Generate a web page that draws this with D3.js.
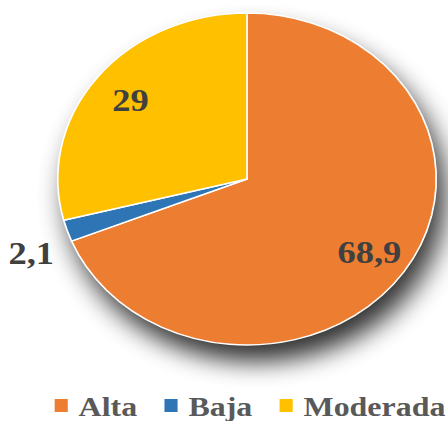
<!DOCTYPE html>
<html>
<head>
<meta charset="utf-8">
<script src="https://cdn.jsdelivr.net/npm/d3@7"></script>
<style>
  body { margin: 0; background: #fff; }
  svg { display: block; }
</style>
</head>
<body>
<svg id="chart" width="448" height="421"></svg>
<script>
// data
const categories = ["Alta", "Baja", "Moderada"];
const values = [68.9, 2.1, 29];
const valueLabels = ["68,9", "2,1", "29"];
const colors = ["#ED7D31", "#2E75B6", "#FFC000"];

const svg = d3.select("#chart");

// the original picture is stretched horizontally
const sx = 1.14;
const radius = 166;
const cx = 247 / sx, cy = 179;

const defs = svg.append("defs");
const shadow = defs.append("filter")
    .attr("id", "shadow")
    .attr("x", "-30%").attr("y", "-30%")
    .attr("width", "160%").attr("height", "160%");
shadow.append("feGaussianBlur").attr("stdDeviation", 12);

const g = svg.append("g").attr("transform", `scale(${sx},1)`);

const pie = d3.pie().sort(null).value(d => d);
const arcs = pie(values);
const arc = d3.arc().innerRadius(0).outerRadius(radius);
const labelArc = d3.arc().innerRadius(radius * 0.78).outerRadius(radius * 0.78);
const outerLabelArc = d3.arc().innerRadius(radius * 1.2).outerRadius(radius * 1.2);

const plot = g.append("g").attr("transform", `translate(${cx},${cy})`);

// shadow under the pie
plot.append("circle")
    .attr("cx", 8).attr("cy", 17)
    .attr("r", radius)
    .attr("fill", "#000")
    .attr("opacity", 0.8)
    .attr("filter", "url(#shadow)");

plot.selectAll("path.slice")
    .data(arcs)
    .enter().append("path")
    .attr("class", "slice")
    .attr("d", arc)
    .attr("fill", (d, i) => colors[i])
    .attr("stroke", "#fff")
    .attr("stroke-width", 1.5)
    .attr("stroke-linejoin", "round");

// data labels
plot.selectAll("text.value")
    .data(arcs)
    .enter().append("text")
    .attr("class", "value")
    .attr("transform", d => {
        const p = (d.endAngle - d.startAngle) < 0.3 ? outerLabelArc.centroid(d) : labelArc.centroid(d);
        return `translate(${p[0]},${p[1]})`;
    })
    .attr("text-anchor", "middle")
    .attr("dy", d => (d.endAngle - d.startAngle) < 0.3 ? "0.7em" : "0.35em")
    .attr("font-family", "'Liberation Serif', 'Times New Roman', serif")
    .attr("font-weight", "bold")
    .attr("font-size", 32)
    .attr("fill", "#404040")
    .text((d, i) => valueLabels[i]);

// legend
const legend = g.append("g")
    .attr("font-family", "'Liberation Serif', 'Times New Roman', serif")
    .attr("font-weight", "bold")
    .attr("font-size", 28)
    .attr("fill", "#595959");

const items = legend.selectAll("g")
    .data(categories)
    .enter().append("g");

items.append("rect")
    .attr("y", 399)
    .attr("width", 11.5)
    .attr("height", 13)
    .attr("fill", (d, i) => colors[i]);

items.append("text")
    .attr("x", 21)
    .attr("y", 416)
    .text(d => d);

let x = 0;
const gap = 24;
items.each(function () {
    const w = 21 + this.querySelector("text").getComputedTextLength();
    d3.select(this).attr("transform", `translate(${x},0)`);
    x += w + gap;
});
const total = x - gap;
const left = 58 / sx, right = 442 / sx;
legend.attr("transform", `translate(${(left + right - total) / 2},0)`);
</script>
</body>
</html>
